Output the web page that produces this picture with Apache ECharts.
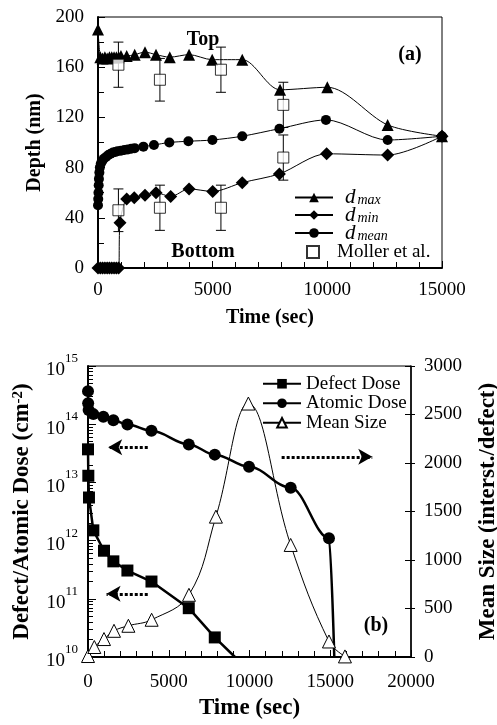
<!DOCTYPE html>
<html>
<head>
<meta charset="utf-8">
<script src="https://cdn.jsdelivr.net/npm/echarts@6/dist/echarts.min.js"></script>
<style>
html, body { margin: 0; padding: 0; background: #fff; }
#chart { width: 497px; height: 725px; }
</style>
</head>
<body>
<div id="chart"></div>
<script>
// ---- panel (a): depth vs time ----
const maxT = [0, 100, 200, 300, 400, 500, 600, 700, 800, 900, 1000, 1250, 1600, 2050, 2530, 3130, 3970, 4980, 6290, 7940, 10000, 12630, 15000];
const maxV = [190, 168, 167, 168, 167, 168, 168, 168, 168, 168, 169, 169, 170, 172, 170, 168, 170, 166, 166, 142, 144, 114, 105];

const minT = [0, 100, 200, 300, 400, 500, 600, 700, 800, 900, 960, 1250, 1580, 2050, 2530, 3170, 3970, 5000, 6290, 7910, 9970, 12630, 15000];
const minV = [0, 0, 0, 0, 0, 0, 0, 0, 0, 0, 36, 55, 56, 58, 60, 57, 63, 61, 68, 75, 91, 90, 105];

const meanT = [0, 10, 20, 30, 40, 60, 80, 120, 180, 250, 350, 450, 550, 650, 750, 850, 1000, 1150, 1300, 1450, 1600, 1980, 2440, 3110, 3940, 4990, 6290, 7910, 9940, 12630, 15000];
const meanV = [50, 55, 60, 66, 71, 76, 80, 83, 85, 87, 88.5, 90, 91, 92, 92.5, 93, 93.5, 94, 94.5, 95, 95.5, 96.7, 98, 100, 101, 102, 105, 111, 118, 102, 105];

// Moller et al. (symbol + error bar)
const mollerT = [890, 890, 2700, 2700, 5360, 5360, 8080, 8080];
const mollerV = [162, 46, 150, 48, 158, 48, 130, 88];
const mollerErr = [18, 17, 17, 18, 18, 18, 18, 18];

// ---- panel (b): dose and mean size vs time ----
const defectT = [0, 20, 60, 330, 990, 1570, 2440, 3930, 6240, 7850, 9100];
const defectV = [3.7e13, 1.3e13, 5.5e12, 1.5e12, 6.7e11, 4.4e11, 3.06e11, 1.98e11, 6.9e10, 2.17e10, 1e10];

const atomT = [0, 10, 40, 330, 950, 1570, 2440, 3930, 6240, 7850, 9970, 12550, 14920, 15250];
const atomV = [3.7e14, 2.3e14, 1.75e14, 1.49e14, 1.34e14, 1.17e14, 9.9e13, 7.7e13, 4.5e13, 3.0e13, 1.86e13, 8.1e12, 1.1e12, 1e10];

const sizeT = [0, 390, 990, 1610, 2500, 3940, 6250, 7920, 9930, 12550, 14920, 15910];
const sizeV = [10, 103, 185, 270, 322, 384, 641, 1447, 2613, 1155, 160, 6];

// legend entries
const legendA = ['d_max', 'd_min', 'd_mean', 'Moller et al.'];
const legendB = ['Defect Dose', 'Atomic Dose', 'Mean Size'];

// minor ticks of the log axis (in exponent units)
const logMinor = [];
for (let e = 10; e < 15; e++) {
  for (let k = 2; k <= 9; k++) logMinor.push(e + Math.log10(k));
}

const FONT = '"Liberation Serif", "Times New Roman", serif';
const black = '#000';

function pairs(xs, ys) {
  return xs.map((x, i) => [x, ys[i]]);
}
// last point only carries the line down to the axis, no marker
function pairsOpenEnd(xs, ys) {
  const d = pairs(xs, ys);
  d[d.length - 1] = { value: d[d.length - 1], symbol: 'none' };
  return d;
}
function plain(v) {
  return String(v);
}

const tickLabel = { color: black, fontFamily: FONT, fontSize: 19, formatter: plain };
const nameStyle = { color: black, fontFamily: FONT, fontSize: 20, fontWeight: 'bold' };
const nameStyleB = { color: black, fontFamily: FONT, fontSize: 23, fontWeight: 'bold' };

// a copy of an axis that only draws the outer half of crossing ticks
function outerTicks(base) {
  return Object.assign({}, base, {
    name: '',
    axisLine: { show: false },
    axisLabel: { show: false },
    splitLine: { show: false },
    minorTick: { show: false },
    axisTick: { show: true, inside: false, length: 4, lineStyle: { color: black, width: 1 } }
  });
}

const xA = {
  type: 'value', gridIndex: 0, min: 0, max: 15000, interval: 5000,
  axisLine: { lineStyle: { color: black, width: 2 } },
  axisTick: { inside: true, length: 7, lineStyle: { color: black, width: 1 } },
  minorTick: { show: true, splitNumber: 5, length: 6, lineStyle: { color: black, width: 1 } },
  axisLabel: Object.assign({ margin: 13 }, tickLabel),
  splitLine: { show: false },
  name: 'Time (sec)', nameLocation: 'middle', nameGap: 40, nameTextStyle: nameStyle
};
const xB = {
  type: 'value', gridIndex: 1, min: 0, max: 20000, interval: 5000,
  axisLine: { lineStyle: { color: black, width: 2 } },
  axisTick: { inside: true, length: 7, lineStyle: { color: black, width: 1 } },
  minorTick: { show: true, splitNumber: 5, length: 6, lineStyle: { color: black, width: 1 } },
  axisLabel: Object.assign({ margin: 16 }, tickLabel),
  splitLine: { show: false },
  name: 'Time (sec)', nameLocation: 'middle', nameGap: 40, nameTextStyle: nameStyleB
};
const yA = {
  type: 'value', gridIndex: 0, min: 0, max: 200, interval: 40,
  axisLine: { lineStyle: { color: black, width: 2 } },
  axisTick: { inside: true, length: 7, lineStyle: { color: black, width: 1 } },
  minorTick: { show: true, splitNumber: 2, length: 6, lineStyle: { color: black, width: 1 } },
  axisLabel: Object.assign({ margin: 14 }, tickLabel),
  splitLine: { show: false },
  name: 'Depth (nm)', nameLocation: 'middle', nameRotate: 90, nameGap: 50, nameTextStyle: nameStyle
};
const yLog = {
  type: 'log', gridIndex: 1, position: 'left', logBase: 10, min: 1e10, max: 1e15, interval: 1,
  axisLine: { lineStyle: { color: black, width: 2 } },
  axisTick: { inside: true, length: 8, lineStyle: { color: black, width: 1 } },
  axisLabel: {
    margin: 10,
    formatter: function (v) {
      return '{b|10}{e|' + Math.round(Math.log10(v)) + '}';
    },
    rich: {
      b: { color: black, fontFamily: FONT, fontSize: 19, padding: [9, 0, 0, 0] },
      e: { color: black, fontFamily: FONT, fontSize: 13, verticalAlign: 'top' }
    }
  },
  splitLine: { show: false },
  name: '{t|Defect/Atomic Dose (cm}{s|-2}{t|)}', nameLocation: 'middle', nameRotate: 90, nameGap: 54,
  nameTextStyle: {
    rich: {
      t: nameStyleB,
      s: { color: black, fontFamily: FONT, fontSize: 15, fontWeight: 'bold', verticalAlign: 'top' }
    }
  }
};
const yLogMinor = {
  type: 'value', gridIndex: 1, position: 'left', min: 10, max: 15,
  axisLine: { show: false },
  axisLabel: { show: false },
  splitLine: { show: false },
  axisTick: { show: true, inside: true, length: 5, customValues: logMinor, lineStyle: { color: black, width: 1 } }
};
const ySize = {
  type: 'value', gridIndex: 1, position: 'right', min: 0, max: 3000, interval: 500,
  axisLine: { lineStyle: { color: black, width: 1.5 } },
  axisTick: { inside: true, length: 6, lineStyle: { color: black, width: 1 } },
  axisLabel: Object.assign({ margin: 13 }, tickLabel),
  splitLine: { show: false },
  name: 'Mean Size (interst./defect)', nameLocation: 'middle', nameRotate: 90, nameGap: 66, nameTextStyle: nameStyleB
};

// legend of panel (a): one component per row so the rows sit exactly
const rowsA = [197, 214.5, 232.5, 252];
const leftA = [294, 294, 294, 306];
const richA = {
  d: { color: black, fontFamily: FONT, fontSize: 21, fontStyle: 'italic', padding: [0, 0, 0, 7] },
  s: { color: black, fontFamily: FONT, fontSize: 14, fontStyle: 'italic', verticalAlign: 'bottom', padding: [0, 0, 0, 2] },
  m: { color: black, fontFamily: FONT, fontSize: 19 }
};
const legends = legendA.map((name, i) => ({
  data: [name === 'Moller et al.' ? { name: name, icon: 'path://M0,0L10,0L10,10L0,10Z' } : name],
  left: leftA[i], top: rowsA[i] - 10, height: 20, itemWidth: 38, itemHeight: 12, padding: 0,
  formatter: function (n) {
    if (n.indexOf('d_') === 0) return '{d|d}{s|' + n.slice(2) + '}';
    return '{m|' + n + '}';
  },
  textStyle: { lineHeight: 20, rich: richA }
}));
legends.push({
  data: legendB,
  orient: 'vertical', left: 262, top: 374, itemWidth: 38, itemHeight: 12, itemGap: 0, padding: 0,
  textStyle: { color: black, fontFamily: FONT, fontSize: 19, lineHeight: 19.5 }
});

const chart = echarts.init(document.getElementById('chart'), null, { renderer: 'canvas' });

const option = {
  animation: false,
  backgroundColor: '#fff',
  grid: [
    { left: 98, top: 17, width: 344, height: 251, outerBoundsMode: 'none', show: true, borderColor: black, borderWidth: 1, backgroundColor: 'transparent' },
    { left: 88, top: 366, width: 323, height: 291, outerBoundsMode: 'none', show: true, borderColor: black, borderWidth: 1, backgroundColor: 'transparent' }
  ],
  xAxis: [xA, outerTicks(xA), xB, outerTicks(xB)],
  yAxis: [yA, outerTicks(yA), yLog, yLogMinor, ySize, outerTicks(ySize)],
  legend: legends,
  graphic: [
    { type: 'text', x: 203, y: 40, style: { text: 'Top', fill: black, font: 'bold 20px ' + FONT, align: 'center', verticalAlign: 'middle' } },
    { type: 'text', x: 203, y: 252, style: { text: 'Bottom', fill: black, font: 'bold 20px ' + FONT, align: 'center', verticalAlign: 'middle' } },
    { type: 'text', x: 410, y: 55, style: { text: '(a)', fill: black, font: 'bold 20px ' + FONT, align: 'center', verticalAlign: 'middle' } },
    { type: 'text', x: 376, y: 626, style: { text: '(b)', fill: black, font: 'bold 20px ' + FONT, align: 'center', verticalAlign: 'middle' } }
  ],
  series: [
    {
      name: 'd_max', type: 'line', xAxisIndex: 0, yAxisIndex: 0, smooth: 0.3,
      symbol: 'triangle', symbolSize: 12,
      itemStyle: { color: black }, lineStyle: { color: black, width: 1 },
      data: pairs(maxT, maxV)
    },
    {
      name: 'd_min', type: 'line', xAxisIndex: 0, yAxisIndex: 0, smooth: 0.3,
      symbol: 'diamond', symbolSize: 13,
      itemStyle: { color: black }, lineStyle: { color: black, width: 1 },
      data: pairs(minT, minV)
    },
    {
      name: 'd_mean', type: 'line', xAxisIndex: 0, yAxisIndex: 0, smooth: 0.3,
      symbol: 'circle', symbolSize: 10,
      itemStyle: { color: black }, lineStyle: { color: black, width: 1 },
      data: pairs(meanT, meanV)
    },
    {
      name: 'Moller error', type: 'custom', xAxisIndex: 0, yAxisIndex: 0, silent: true, z: 3,
      renderItem: function (params, api) {
        const x = api.value(0), v = api.value(1), e = api.value(2);
        const hi = api.coord([x, v + e]);
        const lo = api.coord([x, v - e]);
        const w = 5;
        const st = { stroke: black, lineWidth: 1 };
        return {
          type: 'group',
          children: [
            { type: 'line', shape: { x1: hi[0], y1: hi[1], x2: lo[0], y2: lo[1] }, style: st },
            { type: 'line', shape: { x1: hi[0] - w, y1: hi[1], x2: hi[0] + w, y2: hi[1] }, style: st },
            { type: 'line', shape: { x1: lo[0] - w, y1: lo[1], x2: lo[0] + w, y2: lo[1] }, style: st }
          ]
        };
      },
      encode: { x: 0, y: 1 },
      data: mollerT.map((t, i) => [t, mollerV[i], mollerErr[i]])
    },
    {
      name: 'Moller et al.', type: 'scatter', xAxisIndex: 0, yAxisIndex: 0, z: 4,
      symbol: 'rect', symbolSize: 11,
      itemStyle: { color: '#fff', borderColor: black, borderWidth: 1 },
      data: pairs(mollerT, mollerV)
    },
    {
      name: 'Defect Dose', type: 'line', xAxisIndex: 2, yAxisIndex: 2,
      symbol: 'rect', symbolSize: 12,
      itemStyle: { color: black }, lineStyle: { color: black, width: 2.5 },
      data: pairsOpenEnd(defectT, defectV),
      markLine: {
        silent: true, symbol: ['none', 'arrow'], symbolSize: [12, 14],
        label: { show: false },
        lineStyle: { color: black, width: 3, type: [3, 2] },
        data: [
          [{ coord: [3700, 4e13] }, { coord: [1250, 4e13] }],
          [{ coord: [3700, 1.22e11] }, { coord: [1150, 1.22e11] }]
        ]
      }
    },
    {
      name: 'Atomic Dose', type: 'line', xAxisIndex: 2, yAxisIndex: 2,
      smooth: 0.35, smoothMonotone: 'x',
      symbol: 'circle', symbolSize: 12,
      itemStyle: { color: black }, lineStyle: { color: black, width: 2.5 },
      data: pairsOpenEnd(atomT, atomV)
    },
    {
      name: 'Mean Size', type: 'line', xAxisIndex: 2, yAxisIndex: 4,
      smooth: 0.4,
      symbol: 'triangle', symbolSize: 13,
      itemStyle: { color: '#fff', borderColor: black, borderWidth: 1 },
      lineStyle: { color: black, width: 1 },
      data: pairs(sizeT, sizeV),
      markLine: {
        silent: true, symbol: ['none', 'arrow'], symbolSize: [12, 14],
        label: { show: false },
        lineStyle: { color: black, width: 3, type: [3, 2] },
        data: [
          [{ coord: [11990, 2064] }, { coord: [17600, 2064] }]
        ]
      }
    }
  ]
};

chart.setOption(option);
</script>
</body>
</html>
